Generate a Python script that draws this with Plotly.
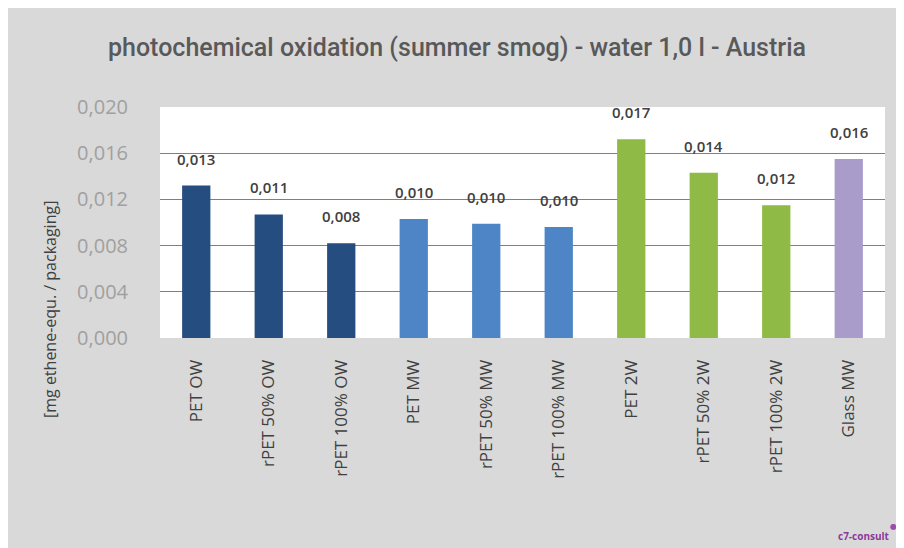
import plotly.graph_objects as go

categories = ["PET OW", "rPET 50% OW", "rPET 100% OW", "PET MW", "rPET 50% MW",
              "rPET 100% MW", "PET 2W", "rPET 50% 2W", "rPET 100% 2W", "Glass MW"]
values = [0.0132, 0.0107, 0.0082, 0.0103, 0.0099, 0.0096, 0.0172, 0.0143, 0.0115, 0.0155]
value_labels = ["0,013", "0,011", "0,008", "0,010", "0,010", "0,010", "0,017", "0,014", "0,012", "0,016"]
bar_colors = ["#264d7f", "#264d7f", "#264d7f", "#4d85c6", "#4d85c6", "#4d85c6",
              "#8fba45", "#8fba45", "#8fba45", "#a99ccb"]
tick_vals = [0.000, 0.004, 0.008, 0.012, 0.016, 0.020]
tick_text = ["0,000", "0,004", "0,008", "0,012", "0,016", "0,020"]

# page body has an 8px margin, so the figure is drawn at (8, 8)
OFF = 8
W, H = 904 - OFF, 548 - OFF
ml, mt = 160 - OFF, 107 - OFF
plot_r, plot_b = 885 - OFF, 338 - OFF
mr, mb = W - plot_r, H - plot_b
pw, ph = W - ml - mr, H - mt - mb

def px_x(x):  # reference-image pixel -> paper coordinate
    return (x - OFF - ml) / pw

def px_y(y):
    return (H - mb - (y - OFF)) / ph

fig = go.Figure()
fig.add_trace(go.Bar(
    x=categories, y=values, marker=dict(color=bar_colors, line=dict(width=0)),
    width=0.39, hoverinfo="x+y",
))

for c, v, t in zip(categories, values, value_labels):
    fig.add_annotation(x=c, y=v, text=t, showarrow=False, yanchor="bottom", yshift=15,
                       font=dict(family="Open Sans", size=15, color="#404040", weight=600))

fig.add_annotation(xref="paper", yref="paper", x=px_x(50), y=px_y(310),
                   xanchor="center", yanchor="middle",
                   text="[mg ethene-equ. / packaging]", textangle=-90, showarrow=False,
                   font=dict(family="Open Sans", size=16, color="#404040"))
fig.add_annotation(xref="paper", yref="paper", x=px_x(892), y=px_y(536),
                   xanchor="right", yanchor="middle",
                   text="<b>c7-consult</b>", showarrow=False,
                   font=dict(family="Open Sans", size=10, color="#8a3a9a"))
fig.add_annotation(xref="paper", yref="paper", x=px_x(899), y=px_y(526),
                   xanchor="right", yanchor="middle",
                   text="●", showarrow=False,
                   font=dict(family="DejaVu Sans", size=8, color="#9a4fb0"))

fig.update_layout(
    width=W, height=H,
    margin=dict(l=ml, r=mr, t=mt, b=mb),
    paper_bgcolor="#d9d9d9", plot_bgcolor="white",
    showlegend=False, bargap=0.61,
    title=dict(text="photochemical oxidation (summer smog) - water 1,0 l - Austria",
               x=(457 - OFF) / W, xanchor="center", xref="container",
               y=1 - (47 - OFF) / H, yanchor="middle",
               font=dict(family="Roboto", size=25, color="#595959", weight=500)),
    yaxis=dict(range=[0, 0.020], tickvals=tick_vals, ticktext=tick_text,
               showgrid=True, gridcolor="#7f7f7f", gridwidth=1, zeroline=False,
               showline=False, ticks="outside", ticklen=27, tickcolor="rgba(0,0,0,0)",
               tickfont=dict(family="Open Sans", size=20, color="#a0a0a0")),
    xaxis=dict(tickangle=-90, showgrid=False, showline=False, ticks="outside", ticklen=14,
               tickcolor="rgba(0,0,0,0)",
               tickfont=dict(family="Open Sans", size=17, color="#404040")),
)

fig.write_html("out.html")
